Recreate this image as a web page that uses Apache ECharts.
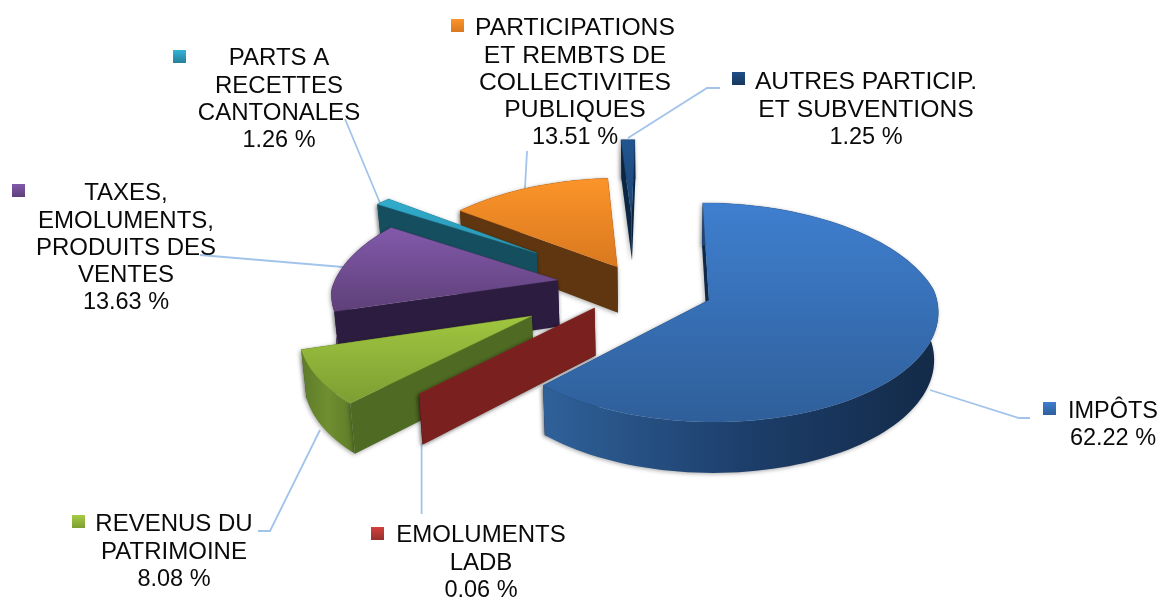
<!DOCTYPE html>
<html><head><meta charset="utf-8">
<style>html,body{margin:0;padding:0;background:#fff}#c{width:1161px;height:597px}</style>
<script src="https://cdn.jsdelivr.net/npm/echarts@6/dist/echarts.min.js"></script>
</head><body><div id="c"></div>
<script>
// ---- data ----
const names = ['IMPÔTS','EMOLUMENTS\nLADB','REVENUS DU\nPATRIMOINE','TAXES,\nEMOLUMENTS,\nPRODUITS DES\nVENTES','PARTS A\nRECETTES\nCANTONALES','PARTICIPATIONS\nET REMBTS DE\nCOLLECTIVITES\nPUBLIQUES','AUTRES PARTICIP.\nET SUBVENTIONS'];
const values = [62.22,0.06,8.08,13.63,1.26,13.51,1.25];
// ---- explosion of each slice, in units of the pie radius ----
const explodeX = [0.215,-0.285,-0.555,-0.458,-0.575,-0.195,-0.14];
const explodeY = [-0.091,-0.162,-0.233,0.093,0.357,0.218,0.744];
// ---- colours ----
const topColors = [['#3f7fcf','#2f5f9a'],['#a52a2a','#8a2322'],['#a0c63f','#7c9e33'],['#8259ab','#5f4079'],['#31adcd','#2a93af'],['#fb9429','#d9781f'],['#21548f','#1c4778']];
const arcWall = [['#2f6199','#1d3f6c','#132a47'],['#7a211f','#7a211f','#7a211f'],['#5d7b29','#6f8f30','#5d7b29'],['#2c1c3f','#2c1c3f','#2c1c3f'],['#144d5c','#144d5c','#144d5c'],['#5e3510','#5e3510','#5e3510'],['#0f2c4e','#0f2c4e','#0f2c4e']];
const cutWall = ['#10294a','#7a211f','#4f6a23','#2c1c3f','#154f5f','#5f3610','#0c2543'];
const markerColors = [['#3f7fcf','#2f5f9a'],['#d43f3c','#95302e'],['#a6cc45','#7c9e33'],['#8259ab','#5f4079'],['#31b4d6','#26809a'],['#fb9429','#d9781f'],['#1f4f87','#17375e']];
// ---- layout ----
const CX=660, CY=290, RX=226, RY=109, F_BACK=6.6, F_FRONT=11, H=47, BOTTOM=0.985;
const LINE=27.3;
const labelX=[1113,481,174,126,279,575,866], labelY=[398,522,511,180,45,15,69];
const labelSize=[23.5,24,24,24,24,24.7,24.7];
const markerX=[1043,371,72,12,173,451,732], markerY=[402,527,515,184,50,19,72];
const leaders=[[[1030,418],[1019,418],[930,390]],[[421.6,514],[421.6,443]],[[258,531],[270,531],[320,430]],[[200,255],[343,267]],[[345,119],[380,203]],[[527,151],[525,188]],[[720,88],[707,88],[628,138]]];
const FONT='"Liberation Sans",Arial,sans-serif';

const total = values.reduce((a,b)=>a+b,0);
const starts = []; values.reduce((acc,v,i)=>{starts[i]=acc; return acc+v;},0);
const rad = d=>d*Math.PI/180;
function proj(X,Y,low){
  const f = Y<0?F_FRONT:F_BACK, s=f/(f+Y);
  const x = CX+X*RX*s, y = CY-Y*RY*s;
  if(!low) return [x,y];
  return [CX+(x-CX)*BOTTOM, y+H*(0.25+0.75*s)];
}
function renderItem(params, api){
  const i=params.dataIndex, v=api.value(0);
  const a0=starts[i]/total*360, a1=(starts[i]+v)/total*360;
  const ex=explodeX[i], ey=explodeY[i];
  const steps=Math.max(1,Math.ceil((a1-a0)/2));
  const rim=[];
  for(let k=0;k<=steps;k++){const a=rad(a0+(a1-a0)*k/steps); rim.push([ex+Math.sin(a),ey+Math.cos(a)]);}
  const up=p=>proj(p[0],p[1],false), dn=p=>proj(p[0],p[1],true);
  const apex=[ex,ey];
  const base=(n)=>100-i*10+n;
  const quad=(p,q)=>[up(p),up(q),dn(q),dn(p)];
  const shadow={shadowBlur:4,shadowColor:'rgba(0,0,0,0.35)',shadowOffsetX:-1,shadowOffsetY:1};
  const startFront=Math.cos(rad(a0-90))<0, endFront=Math.cos(rad(a1+90))<0;
  const cut=(p,z)=>({type:'polygon',z2:base(z),shape:{points:quad(apex,p)},style:Object.assign({fill:cutWall[i]},shadow)});
  const arcPts=rim.map(up).concat(rim.slice().reverse().map(dn));
  const c=arcWall[i];
  const children=[
    cut(rim[0],startFront?3:1),
    cut(rim[rim.length-1],endFront?3:1),
    {type:'polygon',z2:base(2),shape:{points:arcPts},style:Object.assign({fill:{type:'linear',x:0,y:0,x2:1,y2:0,colorStops:[{offset:0,color:c[0]},{offset:0.5,color:c[1]},{offset:1,color:c[2]}]}},shadow)},
    {type:'polygon',z2:base(4),shape:{points:[up(apex)].concat(rim.map(up))},style:{fill:{type:'linear',x:0,y:0,x2:0,y2:1,colorStops:[{offset:0,color:topColors[i][0]},{offset:1,color:topColors[i][1]}]},stroke:topColors[i][1],lineWidth:0.3}}
  ];
  return {type:'group',children};
}
const graphics=[];
leaders.forEach(l=>graphics.push({type:'polyline',silent:true,z:1,shape:{points:l},style:{stroke:'#a3c4ea',lineWidth:1.8,fill:null}}));
names.forEach((n,i)=>{
  const lines=n.split('\n').length;
  graphics.push({type:'text',z:20,x:labelX[i],y:labelY[i],style:{text:n,font:labelSize[i]+'px '+FONT,fill:'#0a0a0a',textAlign:'center',textVerticalAlign:'top',lineHeight:LINE}});
  graphics.push({type:'text',z:20,x:labelX[i],y:labelY[i]+lines*LINE,style:{text:values[i].toFixed(2)+' %',font:'23.5px '+FONT,fill:'#0a0a0a',textAlign:'center',textVerticalAlign:'top',lineHeight:LINE}});
  graphics.push({type:'rect',z:20,shape:{x:markerX[i],y:markerY[i],width:13,height:13},style:{fill:{type:'linear',x:0,y:0,x2:0,y2:1,colorStops:[{offset:0,color:markerColors[i][0]},{offset:1,color:markerColors[i][1]}]}}});
});
const chart=echarts.init(document.getElementById('c'),null,{renderer:'canvas'});
chart.setOption({
  animation:false,
  backgroundColor:'#fff',
  graphic:{elements:graphics},
  series:[{type:'custom',coordinateSystem:'none',silent:true,z:5,renderItem,data:values.map((v,i)=>({name:names[i],value:[v]}))}]
});
</script></body></html>
